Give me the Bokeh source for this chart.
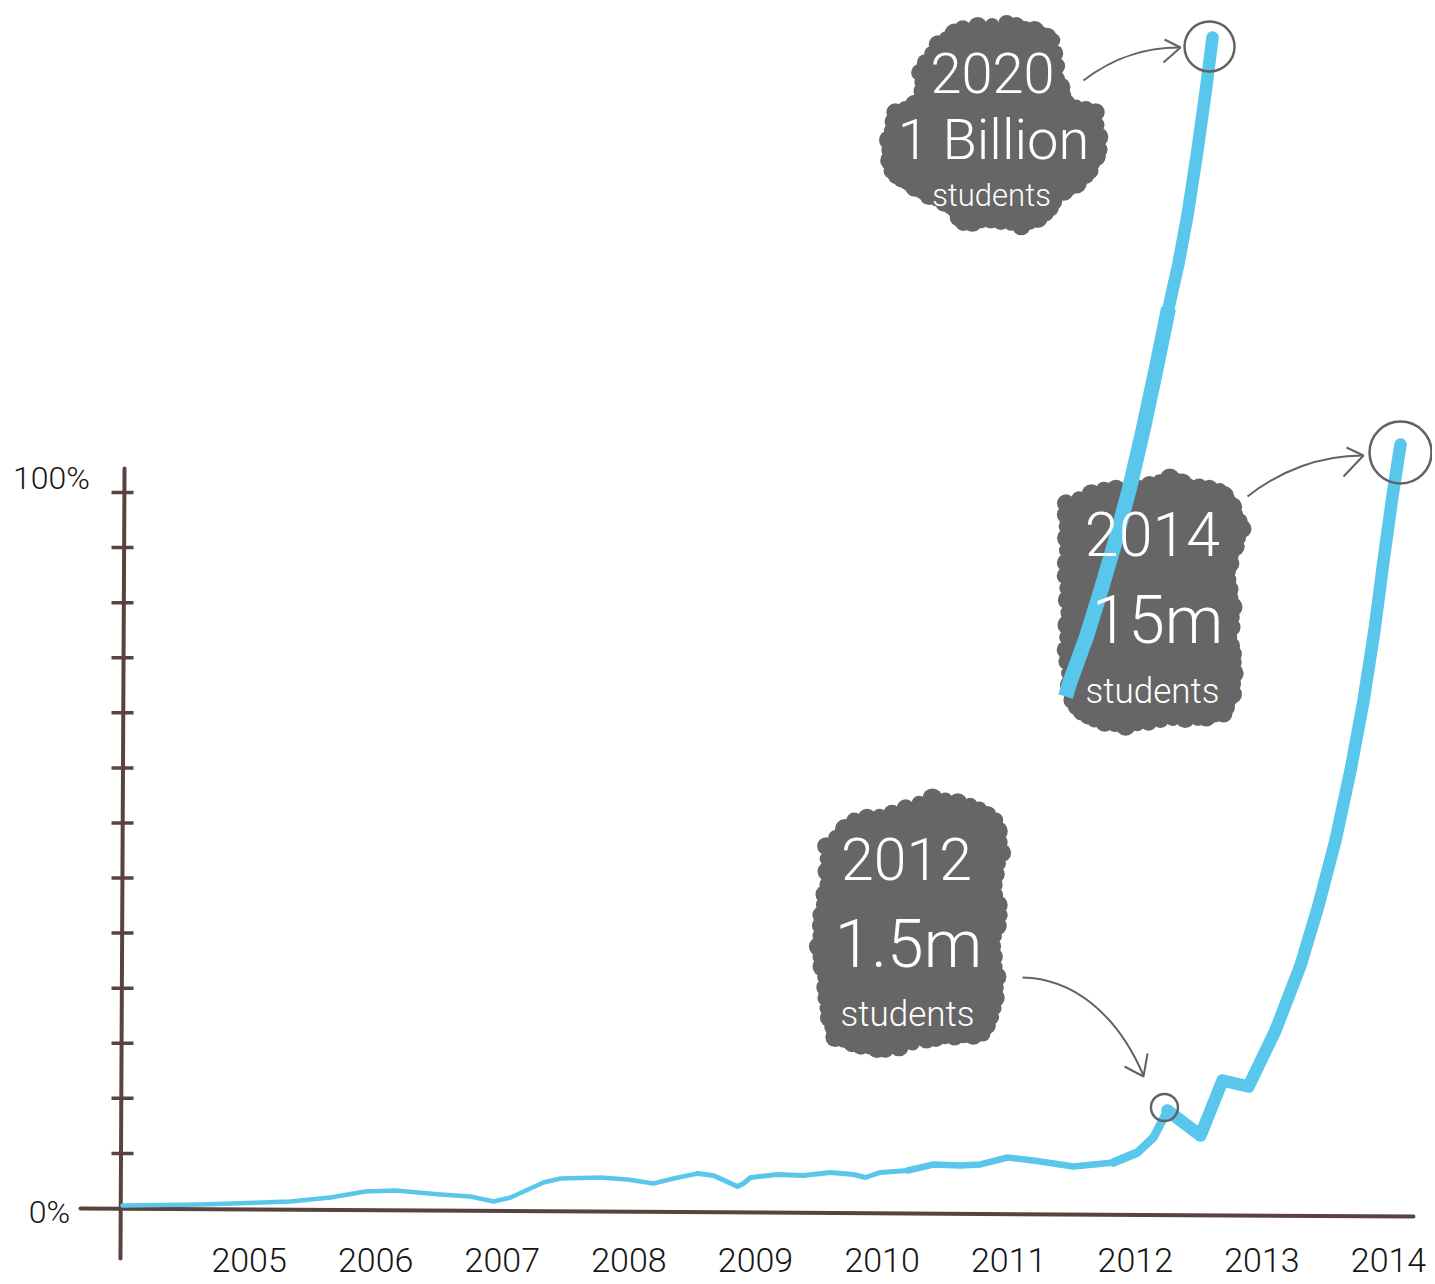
from bokeh.plotting import figure
from bokeh.models import Range1d
from bokeh.embed import file_html
from bokeh.resources import INLINE
from bokeh.core.properties import value

# ---------------- data ----------------
main_year = [2004.000, 2004.616, 2005.327, 2005.643, 2005.919, 2006.156, 2006.512, 2006.749, 2006.930, 2007.065,
             2007.325, 2007.460, 2007.776, 2007.989, 2008.194, 2008.352, 2008.542, 2008.668, 2008.858, 2008.905,
             2008.961, 2009.174, 2009.379, 2009.592, 2009.774, 2009.869, 2009.987, 2010.201, 2010.406, 2010.619,
             2010.777, 2010.991, 2011.196, 2011.512, 2011.828, 2012.017, 2012.144, 2012.254, 2012.515, 2012.689,
             2012.894, 2013.107, 2013.305, 2013.447, 2013.581, 2013.700, 2013.803, 2013.889, 2013.961, 2014.032,
             2014.095]
main_pct = [0.42, 0.56, 0.98, 1.54, 2.37, 2.51, 1.96, 1.68, 0.98, 1.54,
            3.63, 4.19, 4.33, 4.05, 3.49, 4.19, 4.89, 4.61, 3.07, 3.49,
            4.33, 4.75, 4.61, 5.03, 4.75, 4.33, 5.03, 5.31, 6.15, 6.01,
            6.15, 7.12, 6.70, 5.87, 6.42, 7.82, 9.92, 13.69, 10.20, 17.88,
            17.04, 24.86, 33.94, 42.32, 51.40, 61.17, 70.95, 80.73, 90.50, 99.58,
            106.70]

proj_year = [2011.449, 2011.480, 2011.615, 2011.733, 2011.844, 2011.954, 2012.057, 2012.167, 2012.262,
             2012.341, 2012.412, 2012.491, 2012.562, 2012.610]
proj_pct = [71.51, 73.32, 79.89, 86.59, 93.30, 100.56, 108.38, 117.46, 125.70,
            131.98, 138.69, 147.77, 156.84, 163.55]

tick_years = [2005, 2006, 2007, 2008, 2009, 2010, 2011, 2012, 2013, 2014]
tick_labels = ["2005", "2006", "2007", "2008", "2009", "2010", "2011", "2012", "2013", "2014"]
y_tick_values = [i * 100.0 / 13 for i in range(1, 14)]
y_label_values = [0, 100]
y_labels = ["0%", "100%"]

PEAK_2012 = 37   # index of the 2012 point in the main series
PROJ_STEP = 8    # index where the projected line changes thickness

# ---------------- styles ----------------
BLUE = "#58c7eb"
BROWN = "#5a433f"
GRAY = "#666666"
AGRAY = "#626262"
FONT = value("Roboto Light, Roboto")

W, H = 1432, 1280
PX_YEAR = 126.6
PX_PCT = 7.16
x_start = 2004 - 122 / PX_YEAR
y_top = 1208 / PX_PCT

p = figure(width=W, height=H, output_backend="svg", toolbar_location=None,
           x_range=Range1d(x_start, x_start + W / PX_YEAR),
           y_range=Range1d(y_top - H / PX_PCT, y_top),
           x_axis_type=None, y_axis_type=None, min_border=0,
           outline_line_color=None, background_fill_color="white",
           border_fill_color="white")
p.grid.visible = False
p.extra_x_ranges = {"px": Range1d(0, W)}
p.extra_y_ranges = {"px": Range1d(H, 0)}
PXK = dict(x_range_name="px", y_range_name="px")

# ---------------- axes ----------------
p.line([2004.016, 2003.984], [103.35, -6.98], line_color=BROWN, line_width=4, line_cap="round")
p.line([2003.668, 2014.197], [0, -1.12], line_color=BROWN, line_width=4, line_cap="round")
p.scatter(x=[2004] * len(y_tick_values), y=y_tick_values, marker="dash", size=22,
          line_color=BROWN, line_width=3.5)
p.text(x=tick_years, y=[0] * len(tick_years), text=tick_labels, y_offset=51,
       text_font=FONT, text_font_size="34px", text_color="#151515",
       text_align="center", text_baseline="middle")
p.text(x=[2004], y=[y_label_values[1]], text=[y_labels[1]], x_offset=-71, y_offset=-15,
       text_font=FONT, text_font_size="32px", text_color="#151515",
       text_align="center", text_baseline="middle")
p.text(x=[2004], y=[y_label_values[0]], text=[y_labels[0]], x_offset=-73, y_offset=3,
       text_font=FONT, text_font_size="32px", text_color="#151515",
       text_align="center", text_baseline="middle")


# ---------------- clouds ----------------
def cloud(outline):
    n = len(outline)
    cx = sum(q[0] for q in outline) / n
    cy = sum(q[1] for q in outline) / n
    inner = []
    for (x, y) in outline:
        dx, dy = x - cx, y - cy
        d = (dx * dx + dy * dy) ** 0.5
        k = (d - 8) / d
        inner.append((cx + dx * k, cy + dy * k))
    p.patch([q[0] for q in inner], [q[1] for q in inner], fill_color=GRAY,
            line_color=GRAY, line_width=1, **PXK)
    bx, by, bs = [], [], []
    cyc = [18, 15, 20, 16, 19, 14, 17]
    for i in range(n):
        x0, y0 = inner[i]
        x1, y1 = inner[(i + 1) % n]
        for t in (0.0, 0.34, 0.67):
            bx.append(x0 + (x1 - x0) * t)
            by.append(y0 + (y1 - y0) * t)
            bs.append(cyc[len(bs) % len(cyc)])
    p.scatter(bx, by, size=bs, marker="circle", fill_color=GRAY, line_color=None, **PXK)


cloud([(933, 37), (960, 20), (1007, 15), (1037, 23), (1057, 33), (1063, 73), (1073, 100),
       (1103, 110), (1107, 150), (1097, 173), (1083, 187), (1063, 200), (1050, 220),
       (1023, 233), (990, 227), (960, 230), (947, 213), (923, 200), (900, 187), (883, 173),
       (880, 140), (887, 110), (917, 97), (913, 67)])
cloud([(1060, 497), (1100, 482), (1137, 480), (1170, 470), (1190, 477), (1223, 483),
       (1237, 500), (1248, 523), (1237, 550), (1235, 577), (1240, 607), (1237, 640),
       (1240, 667), (1237, 700), (1227, 720), (1200, 725), (1160, 727), (1123, 733),
       (1090, 727), (1070, 713), (1063, 690), (1058, 653), (1060, 613), (1057, 573), (1060, 533)])
cloud([(820, 840), (850, 813), (890, 805), (933, 790), (973, 797), (1000, 813), (1007, 847),
       (1000, 880), (1007, 913), (1000, 947), (1003, 980), (1000, 1013), (987, 1040),
       (957, 1043), (927, 1047), (883, 1057), (857, 1053), (830, 1043), (820, 1013),
       (817, 980), (810, 947), (813, 913), (820, 880)])

# ---------------- data lines ----------------
for a, b, w in [(0, 17, 4.5), (16, 28, 5), (27, 35, 6.5), (34, 38, 8.5), (37, len(main_year), 12.5)]:
    p.line(main_year[a:b], main_pct[a:b], line_color=BLUE, line_width=w,
           line_cap="round", line_join="round")
p.line(proj_year[:PROJ_STEP + 1], proj_pct[:PROJ_STEP + 1], line_color=BLUE, line_width=15,
       line_cap="butt", line_join="round")
p.line(proj_year[PROJ_STEP:], proj_pct[PROJ_STEP:], line_color=BLUE, line_width=12.5,
       line_cap="round", line_join="round")

# ---------------- cloud texts ----------------
def label(x, y, t, size):
    p.text(x=[x], y=[y], text=[t], text_font=FONT, text_font_size=size, text_color="white",
           text_align="center", text_baseline="middle", **PXK)


label(992, 72, "2020", "56px")
label(993, 139, "1 Billion", "56px")
label(991, 195, "students", "31px")
label(1152, 533, "2014", "61px")
label(1157, 620, "15m", "66px")
label(1152, 691, "students", "35px")
label(906, 858, "2012", "59px")
label(908, 944, "1.5m", "66px")
label(907, 1014, "students", "35px")

# ---------------- highlight circles (centred just below the marked points) ----------------
p.scatter([main_year[-1]], [main_pct[-1] - 8 / PX_PCT], marker="circle", size=62, fill_color=None,
          line_color=AGRAY, line_width=2.5)
p.scatter([proj_year[-1] - 3 / PX_YEAR], [proj_pct[-1] - 9 / PX_PCT], marker="circle", size=50,
          fill_color=None, line_color=AGRAY, line_width=2.5)
p.scatter([main_year[PEAK_2012] - 3 / PX_YEAR], [main_pct[PEAK_2012] + 3 / PX_PCT], marker="circle",
          size=27, fill_color=None, line_color=AGRAY, line_width=2.5)

# ---------------- arrows ----------------
p.bezier(x0=[1083], y0=[80], x1=[1178], y1=[47], cx0=[1115], cy0=[55], cx1=[1150], cy1=[47],
         line_color=AGRAY, line_width=2, **PXK)
p.line([1164, 1180, 1163], [39, 47, 62], line_color=AGRAY, line_width=2, **PXK)

p.bezier(x0=[1247], y0=[496], x1=[1362], y1=[455], cx0=[1280], cy0=[470], cx1=[1320], cy1=[455],
         line_color=AGRAY, line_width=2, **PXK)
p.line([1346, 1363, 1343], [447, 455, 476], line_color=AGRAY, line_width=2, **PXK)

p.bezier(x0=[1022], y0=[977], x1=[1143], y1=[1075], cx0=[1070], cy0=[978], cx1=[1115], cy1=[1010],
         line_color=AGRAY, line_width=2, **PXK)
p.line([1124, 1143, 1147], [1066, 1076, 1053], line_color=AGRAY, line_width=2, **PXK)

open("out.html", "w").write(file_html(p, INLINE))
